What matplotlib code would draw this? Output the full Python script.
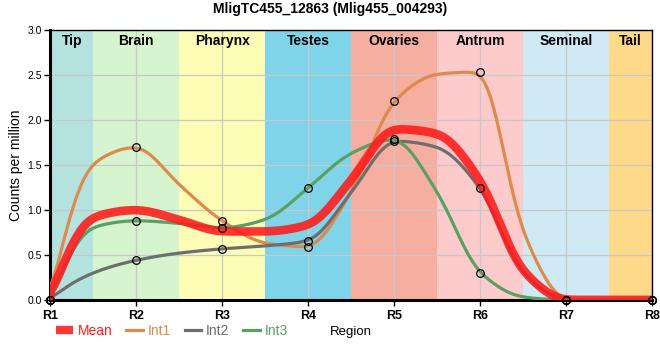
"""Smoothed expression profile of MligTC455_12863 across body regions."""

import numpy as np
import matplotlib

matplotlib.use("Agg")
import matplotlib.pyplot as plt
from matplotlib.lines import Line2D

plt.rcParams["font.family"] = ["Liberation Sans", "DejaVu Sans"]

# sample positions: region centres plus the half steps between them
positions = [1, 1.5, 2, 2.5, 3, 3.5, 4, 4.5, 5, 5.5, 6, 6.5, 7, 7.5, 8]
tick_labels = ["R1", "R2", "R3", "R4", "R5", "R6", "R7", "R8"]
int1 = [0, 1.52, 1.70, 1.28, 0.878, 0.63, 0.589, 1.20, 2.21, 2.51, 2.533, 0.75, 0, 0, 0]
int2 = [0, 0.30, 0.44, 0.52, 0.567, 0.60, 0.655, 1.19, 1.767, 1.70, 1.244, 0.30, 0, 0, 0]
int3 = [0, 0.81, 0.88, 0.85, 0.80, 0.89, 1.244, 1.63, 1.789, 1.20, 0.30, 0.03, 0, 0, 0]
mean = [0, 0.92, 1.00, 0.89, 0.76, 0.76, 0.83, 1.33, 1.90, 1.85, 1.33, 0.32, 0, 0, 0]

band_names = ["Tip", "Brain", "Pharynx", "Testes", "Ovaries", "Antrum", "Seminal", "Tail"]
band_edges = [1, 1.5, 2.5, 3.5, 4.5, 5.5, 6.5, 7.5, 8]
band_colors = ["#b3e2df", "#d6f5cf", "#fdfdb5", "#7fd4ea",
               "#f5ae9f", "#fdcbcc", "#cfeaf4", "#fdd98a"]

_SERIES = [
    ("Int1", int1, "#dd8a4c"),
    ("Int2", int2, "#6e6e6e"),
    ("Int3", int3, "#5aa065"),
]
_MEAN_COLOR = "#ff1a1a"


def _pchip(x, y, xs):
    x = np.asarray(x, float)
    y = np.asarray(y, float)
    h = np.diff(x)
    delta = np.diff(y) / h
    d = np.zeros_like(y)
    for k in range(1, len(x) - 1):
        if delta[k - 1] * delta[k] > 0:
            w1 = 2 * h[k] + h[k - 1]
            w2 = h[k] + 2 * h[k - 1]
            d[k] = (w1 + w2) / (w1 / delta[k - 1] + w2 / delta[k])
    d[0] = delta[0] * 1.5 if delta[0] != 0 else 0
    d[-1] = 0
    idx = np.clip(np.searchsorted(x, xs) - 1, 0, len(x) - 2)
    t = (xs - x[idx]) / h[idx]
    h00 = 2 * t**3 - 3 * t**2 + 1
    h10 = t**3 - 2 * t**2 + t
    h01 = -2 * t**3 + 3 * t**2
    h11 = t**3 - t**2
    return h00 * y[idx] + h10 * h[idx] * d[idx] + h01 * y[idx + 1] + h11 * h[idx] * d[idx + 1]


def _curve(values, xs, sigma=0.085):
    # monotone cubic through the readings, then a light gaussian blur to round the joints
    ys = _pchip(positions, values, xs)
    step = xs[1] - xs[0]
    half = int(4 * sigma / step)
    kernel = np.exp(-0.5 * (np.arange(-half, half + 1) * step / sigma) ** 2)
    kernel /= kernel.sum()
    padded = np.concatenate([np.full(half, ys[0]), ys, np.full(half, ys[-1])])
    out = np.convolve(padded, kernel, mode="valid")
    out[0] = ys[0]
    return np.clip(out, 0, None)


fig = plt.figure(figsize=(6.6, 3.6), dpi=100)
ax = fig.add_axes([0.076, 0.167, 0.912, 0.75])

for k, name in enumerate(band_names):
    ax.axvspan(band_edges[k], band_edges[k + 1], color=band_colors[k], lw=0, zorder=0)
    ax.text((band_edges[k] + band_edges[k + 1]) / 2, 2.955, name, ha="center", va="top",
            fontsize=10, fontweight="bold", zorder=5)

ax.grid(True, color="#c8c8c8", lw=0.9, zorder=1)
ax.set_axisbelow(True)

xs = np.linspace(1, 8, 1401)
centres = positions[::2]
for label, values, color in _SERIES:
    ax.plot(xs, _curve(values, xs), color=color, lw=2.3, solid_capstyle="round", zorder=3)
ax.plot(xs, _curve(mean, xs), color=_MEAN_COLOR, lw=6.2, alpha=0.88,
        solid_capstyle="round", zorder=4)
for label, values, color in _SERIES:
    ax.plot(centres, values[::2], ls="none", marker="o", ms=5.5, mfc="none",
            mec="black", mew=0.9, zorder=6, clip_on=False)

ax.set_xlim(1, 8)
ax.set_ylim(0, 3)
ax.set_xticks(range(1, 9))
ax.set_xticklabels(tick_labels, fontweight="bold", fontsize=9)
ax.set_yticks(np.arange(0, 3.01, 0.5))
ax.set_yticklabels([f"{v:.1f}" for v in np.arange(0, 3.01, 0.5)], fontsize=7.5)
ax.tick_params(axis="both", length=4, width=1, pad=2)
ax.tick_params(axis="x", pad=3)
for side in ("left", "bottom"):
    ax.spines[side].set_linewidth(2.2)
for side in ("top", "right"):
    ax.spines[side].set_linewidth(1)
ax.set_ylabel("Counts per million", fontsize=10, labelpad=3)
ax.set_xlabel("Region", fontsize=9.5, labelpad=3)

fig.suptitle("MligTC455_12863 (Mlig455_004293)", fontsize=10, fontweight="bold", y=0.995)

handles = [Line2D([], [], color=_MEAN_COLOR, lw=6, alpha=0.88, solid_capstyle="butt")]
handles += [Line2D([], [], color=c, lw=2.3) for _, _, c in _SERIES]
names = ["Mean"] + [s[0] for s in _SERIES]
leg = fig.legend(handles, names, loc="center left", bbox_to_anchor=(0.07, 0.081), ncol=4,
                 frameon=False, fontsize=10, handlelength=1.2, handletextpad=0.35,
                 columnspacing=1.0, borderpad=0.2)
for text, color in zip(leg.get_texts(), [_MEAN_COLOR] + [s[2] for s in _SERIES]):
    text.set_color(color)

fig.savefig("out.png", dpi=100)
